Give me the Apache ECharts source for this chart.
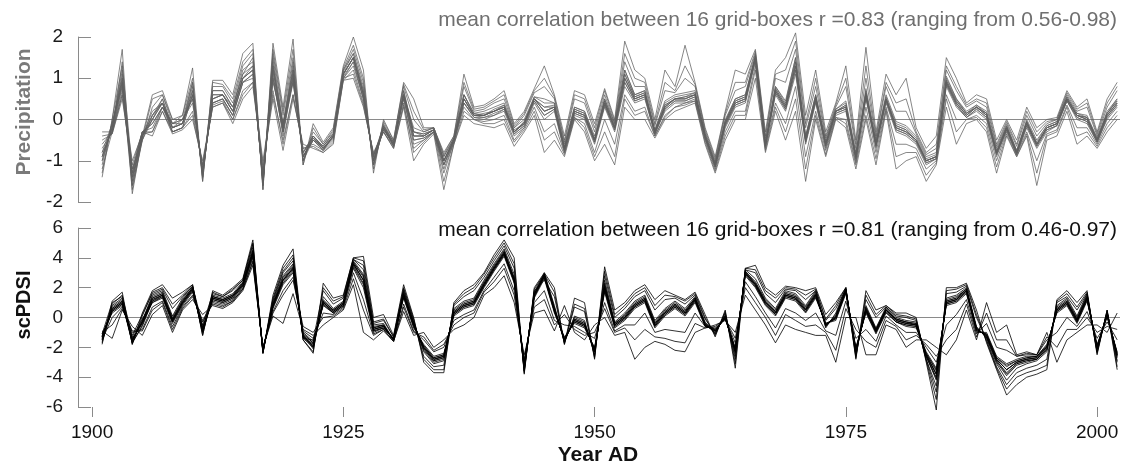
<!DOCTYPE html>
<html>
<head>
<meta charset="utf-8">
<script src="https://cdn.jsdelivr.net/npm/echarts@6/dist/echarts.min.js"></script>
<style>
html,body{margin:0;padding:0;background:#fff;}
#chart{width:1126px;height:465px;}
</style>
</head>
<body>
<div id="chart"></div>
<script>
// ---- data ----
const firstYear = 1901, lastYear = 2002;
const xTickYears = [1900, 1925, 1950, 1975, 2000];
const precipTicks = [-2, -1, 0, 1, 2];
const pdsiTicks = [-6, -4, -2, 0, 2, 4, 6];
const precipTitle = 'mean correlation between 16 grid-boxes r =0.83 (ranging from 0.56-0.98)';
const pdsiTitle = 'mean correlation between 16 grid-boxes r =0.81 (ranging from 0.46-0.97)';

// precipitation anomalies, one row per year (1901..2002), 16 grid-boxes per row
const precipByYear = [
[-0.9,-1.0,-0.8,-0.9,-1.1,-0.7,-0.9,-1.0,-0.8,-1.2,-1.4,-0.4,-0.3,-0.6,-1.3,-0.5],
[-0.2,-0.1,-0.3,-0.2,-0.1,-0.3,-0.2,-0.2,-0.1,-0.3,0.0,-0.35,-0.3,-0.3,0.0,-0.35],
[0.9,1.0,0.8,1.1,0.9,0.7,1.0,1.2,0.8,0.9,1.7,0.5,0.6,1.4,1.3,0.6],
[-1.4,-1.5,-1.3,-1.4,-1.6,-1.2,-1.4,-1.5,-1.3,-1.7,-1.8,-1.1,-1.0,-1.6,-1.2,-1.3],
[-0.4,-0.4,-0.3,-0.4,-0.5,-0.3,-0.4,-0.4,-0.3,-0.5,-0.4,-0.3,-0.35,-0.45,-0.5,-0.3],
[0.0,0.1,-0.1,0.1,0.0,-0.2,0.2,0.0,-0.1,0.1,0.6,-0.4,-0.3,0.5,0.3,-0.3],
[0.4,0.4,0.3,0.5,0.4,0.3,0.4,0.5,0.3,0.4,0.7,0.2,0.3,0.6,0.6,0.2],
[-0.2,-0.1,-0.2,-0.2,-0.3,-0.1,-0.2,-0.2,-0.1,-0.3,0.0,-0.35,-0.3,-0.1,0.0,-0.3],
[-0.1,-0.1,0.0,-0.1,-0.2,0.0,-0.1,-0.1,0.0,-0.2,0.1,-0.25,-0.2,0.1,0.0,-0.2],
[0.6,0.7,0.5,0.8,0.6,0.4,0.7,0.9,0.5,0.6,1.25,0.0,0.1,1.0,0.9,0.2],
[-1.3,-1.3,-1.2,-1.4,-1.3,-1.2,-1.3,-1.4,-1.2,-1.3,-1.5,-1.0,-1.1,-1.5,-1.4,-1.1],
[0.5,0.6,0.4,0.7,0.5,0.4,0.6,0.7,0.4,0.5,0.95,0.3,0.35,0.9,0.8,0.3],
[0.6,0.6,0.5,0.7,0.6,0.5,0.6,0.7,0.5,0.6,0.95,0.4,0.45,0.85,0.8,0.4],
[0.2,0.3,0.1,0.3,0.2,0.1,0.2,0.3,0.1,0.2,0.6,-0.1,0.0,0.5,0.4,0.0],
[1.0,1.1,0.9,1.2,1.0,0.9,1.0,1.1,0.9,1.0,1.6,0.5,0.7,1.4,1.3,0.6],
[1.2,1.3,1.1,1.4,1.2,1.0,1.3,1.5,1.1,1.2,1.85,0.8,0.9,1.7,1.6,0.9],
[-1.5,-1.5,-1.4,-1.6,-1.5,-1.3,-1.5,-1.6,-1.4,-1.5,-1.7,-1.1,-1.2,-1.7,-1.6,-1.0],
[1.2,1.3,1.0,1.4,1.2,0.9,1.3,1.5,1.0,1.1,1.85,0.5,0.7,1.7,1.6,0.6],
[-0.2,-0.1,-0.3,-0.2,-0.3,-0.1,-0.2,-0.1,-0.3,-0.4,0.3,-0.75,-0.6,0.2,0.1,-0.5],
[1.1,1.2,1.0,1.3,1.1,0.9,1.2,1.4,0.9,1.0,1.95,0.5,0.6,1.7,1.5,0.6],
[-0.9,-0.9,-0.8,-1.0,-0.9,-0.8,-0.9,-1.0,-0.8,-0.9,-1.1,-0.6,-0.7,-1.1,-1.0,-0.7],
[-0.45,-0.4,-0.5,-0.4,-0.5,-0.4,-0.45,-0.5,-0.4,-0.5,-0.1,-0.7,-0.65,-0.2,-0.3,-0.6],
[-0.7,-0.7,-0.65,-0.7,-0.75,-0.65,-0.7,-0.7,-0.65,-0.75,-0.55,-0.8,-0.8,-0.6,-0.6,-0.75],
[-0.4,-0.4,-0.35,-0.45,-0.4,-0.35,-0.4,-0.45,-0.35,-0.4,-0.2,-0.6,-0.55,-0.25,-0.3,-0.5],
[1.1,1.1,1.05,1.15,1.1,1.0,1.1,1.2,1.0,1.1,1.3,0.95,1.0,1.25,1.2,0.95],
[1.5,1.5,1.4,1.6,1.5,1.3,1.5,1.6,1.4,1.5,2.0,1.0,1.1,1.8,1.7,1.2],
[0.6,0.7,0.5,0.7,0.6,0.5,0.6,0.8,0.5,0.6,1.2,0.3,0.35,1.0,0.9,0.4],
[-1.0,-1.0,-0.9,-1.1,-1.0,-0.9,-1.0,-1.1,-0.9,-1.0,-1.3,-0.8,-0.85,-1.2,-1.1,-0.85],
[-0.2,-0.15,-0.2,-0.2,-0.25,-0.15,-0.2,-0.2,-0.15,-0.25,0.0,-0.3,-0.3,-0.05,-0.1,-0.3],
[-0.6,-0.6,-0.6,-0.65,-0.6,-0.55,-0.6,-0.65,-0.55,-0.6,-0.5,-0.7,-0.7,-0.5,-0.55,-0.65],
[0.6,0.6,0.55,0.7,0.6,0.5,0.6,0.7,0.5,0.6,0.9,0.3,0.4,0.85,0.8,0.35],
[-0.4,-0.3,-0.5,-0.3,-0.4,-0.6,-0.2,-0.4,-0.5,-0.3,0.5,-1.0,-0.8,0.2,0.0,-0.7],
[-0.4,-0.35,-0.45,-0.4,-0.4,-0.5,-0.3,-0.4,-0.45,-0.35,-0.2,-0.6,-0.55,-0.25,-0.3,-0.5],
[-0.25,-0.25,-0.3,-0.25,-0.25,-0.3,-0.2,-0.25,-0.3,-0.25,-0.2,-0.35,-0.3,-0.2,-0.2,-0.3],
[-1.0,-1.0,-1.1,-1.0,-1.1,-1.2,-0.9,-1.0,-1.1,-1.0,-0.8,-1.7,-1.5,-0.85,-0.9,-1.3],
[-0.5,-0.5,-0.5,-0.45,-0.5,-0.55,-0.45,-0.5,-0.55,-0.5,-0.4,-0.6,-0.6,-0.4,-0.45,-0.55],
[0.5,0.5,0.4,0.6,0.5,0.4,0.6,0.6,0.4,0.5,1.1,0.1,0.2,0.9,0.8,0.3],
[0.1,0.1,0.1,0.15,0.1,0.05,0.15,0.1,0.05,0.1,0.3,-0.1,0.0,0.25,0.2,0.0],
[0.1,0.15,0.05,0.1,0.1,0.0,0.2,0.1,0.05,0.1,0.35,-0.15,-0.1,0.3,0.25,-0.05],
[0.2,0.2,0.15,0.25,0.2,0.1,0.3,0.2,0.1,0.2,0.5,-0.2,-0.1,0.45,0.4,0.0],
[0.3,0.35,0.25,0.35,0.3,0.2,0.4,0.3,0.25,0.3,0.7,-0.1,0.0,0.6,0.5,0.1],
[-0.3,-0.3,-0.35,-0.25,-0.3,-0.4,-0.2,-0.3,-0.35,-0.3,-0.1,-0.65,-0.55,-0.15,-0.2,-0.5],
[-0.1,-0.05,-0.15,-0.1,-0.1,-0.2,0.0,-0.1,-0.15,-0.05,0.2,-0.3,-0.25,0.15,0.1,-0.2],
[0.5,0.5,0.45,0.55,0.5,0.4,0.55,0.5,0.45,0.5,0.75,0.1,0.2,0.7,0.65,0.3],
[0.2,0.3,0.1,0.4,0.2,0.0,0.5,0.2,0.1,0.3,1.3,-0.8,-0.5,1.0,0.8,-0.3],
[0.3,0.35,0.25,0.4,0.3,0.2,0.4,0.3,0.25,0.3,0.6,-0.5,-0.3,0.55,0.5,-0.1],
[-0.7,-0.7,-0.75,-0.65,-0.7,-0.8,-0.6,-0.7,-0.75,-0.7,-0.4,-0.9,-0.85,-0.5,-0.55,-0.8],
[0.2,0.25,0.15,0.3,0.2,0.1,0.3,0.2,0.15,0.25,0.7,0.0,0.05,0.6,0.5,0.05],
[0.1,0.15,0.05,0.2,0.1,0.0,0.2,0.1,0.05,0.15,0.6,-0.3,-0.2,0.5,0.4,-0.1],
[-0.5,-0.5,-0.55,-0.45,-0.5,-0.6,-0.4,-0.5,-0.55,-0.5,-0.1,-1.0,-0.9,-0.2,-0.3,-0.8],
[0.4,0.45,0.35,0.5,0.4,0.3,0.5,0.4,0.35,0.45,0.75,-0.6,-0.3,0.7,0.6,0.0],
[-0.2,-0.2,-0.25,-0.15,-0.2,-0.3,-0.1,-0.2,-0.25,-0.2,0.0,-1.1,-0.9,-0.05,-0.1,-0.6],
[1.0,1.1,0.9,1.2,1.0,0.8,1.2,1.0,0.9,1.1,1.9,0.3,0.5,1.6,1.4,0.6],
[0.5,0.55,0.45,0.6,0.5,0.4,0.6,0.5,0.45,0.55,1.2,0.0,0.1,1.0,0.8,0.2],
[0.6,0.65,0.55,0.7,0.6,0.5,0.7,0.6,0.55,0.65,1.0,0.0,0.2,0.9,0.8,0.3],
[-0.3,-0.3,-0.35,-0.25,-0.3,-0.35,-0.25,-0.3,-0.35,-0.3,0.0,-0.45,-0.4,-0.1,-0.15,-0.4],
[0.3,0.35,0.25,0.4,0.3,0.2,0.45,0.3,0.25,0.35,1.2,0.0,0.05,0.9,0.7,0.1],
[0.5,0.5,0.45,0.55,0.5,0.4,0.6,0.5,0.45,0.5,0.8,0.2,0.3,0.7,0.65,0.3],
[0.5,0.55,0.45,0.6,0.5,0.4,0.65,0.5,0.45,0.55,1.8,0.3,0.35,1.3,1.0,0.4],
[0.6,0.65,0.55,0.65,0.6,0.5,0.7,0.6,0.55,0.6,0.9,0.4,0.45,0.85,0.8,0.45],
[-0.4,-0.4,-0.45,-0.35,-0.4,-0.45,-0.35,-0.4,-0.45,-0.4,-0.2,-0.6,-0.55,-0.25,-0.3,-0.5],
[-1.1,-1.1,-1.15,-1.05,-1.1,-1.15,-1.05,-1.1,-1.15,-1.1,-0.9,-1.3,-1.25,-0.95,-1.0,-1.2],
[-0.1,-0.05,-0.15,-0.05,-0.1,-0.2,0.0,-0.1,-0.15,-0.05,0.2,-0.5,-0.4,0.15,0.1,-0.3],
[0.4,0.45,0.35,0.5,0.4,0.3,0.5,0.4,0.35,0.45,1.2,0.0,0.1,0.9,0.7,0.2],
[0.5,0.55,0.45,0.6,0.5,0.4,0.6,0.5,0.45,0.55,1.1,0.0,0.1,0.9,0.8,0.2],
[1.5,1.5,1.45,1.55,1.5,1.4,1.55,1.5,1.45,1.5,1.7,1.0,1.2,1.65,1.6,1.3],
[-0.6,-0.6,-0.65,-0.55,-0.6,-0.65,-0.55,-0.6,-0.65,-0.6,-0.3,-0.8,-0.75,-0.4,-0.45,-0.7],
[0.7,0.75,0.65,0.8,0.7,0.6,0.8,0.7,0.65,0.75,1.2,0.2,0.3,1.1,1.0,0.4],
[0.3,0.35,0.25,0.4,0.3,0.2,0.45,0.3,0.25,0.35,1.5,-0.5,-0.3,1.2,0.9,-0.1],
[1.3,1.4,1.2,1.5,1.3,1.1,1.5,1.3,1.2,1.4,2.1,0.2,0.5,1.9,1.7,0.8],
[-0.5,-0.45,-0.55,-0.4,-0.5,-0.6,-0.4,-0.5,-0.55,-0.45,0.1,-1.5,-1.2,-0.1,-0.2,-0.9],
[0.5,0.55,0.45,0.6,0.5,0.4,0.6,0.5,0.45,0.55,1.2,0.0,0.1,1.0,0.8,0.2],
[-0.6,-0.6,-0.65,-0.55,-0.6,-0.7,-0.5,-0.6,-0.65,-0.6,-0.3,-0.9,-0.85,-0.4,-0.45,-0.75],
[0.2,0.2,0.15,0.25,0.2,0.1,0.25,0.2,0.15,0.2,0.4,0.0,0.05,0.35,0.3,0.05],
[0.3,0.35,0.25,0.4,0.3,0.2,0.45,0.3,0.25,0.35,1.3,-0.2,-0.1,1.0,0.8,0.0],
[-0.9,-0.9,-0.95,-0.85,-0.9,-1.0,-0.8,-0.9,-0.95,-0.9,-0.5,-1.2,-1.1,-0.6,-0.7,-1.05],
[0.6,0.65,0.55,0.7,0.6,0.5,0.75,0.6,0.55,0.65,1.75,0.0,0.1,1.3,1.0,0.3],
[-0.6,-0.6,-0.65,-0.55,-0.6,-0.7,-0.5,-0.6,-0.65,-0.6,-0.3,-1.1,-0.95,-0.4,-0.45,-0.8],
[0.5,0.5,0.45,0.55,0.5,0.4,0.6,0.5,0.45,0.5,1.1,0.2,0.25,0.9,0.8,0.3],
[-0.2,-0.15,-0.25,-0.1,-0.2,-0.3,-0.05,-0.2,-0.25,-0.15,0.6,-1.2,-0.9,0.4,0.2,-0.6],
[-0.3,-0.25,-0.35,-0.2,-0.3,-0.4,-0.15,-0.3,-0.35,-0.25,1.0,-1.0,-0.8,0.5,0.2,-0.6],
[-0.5,-0.5,-0.55,-0.45,-0.5,-0.6,-0.4,-0.5,-0.55,-0.5,-0.2,-0.9,-0.8,-0.3,-0.35,-0.7],
[-1.0,-1.0,-1.05,-0.95,-1.0,-1.1,-0.9,-1.0,-1.05,-1.0,-0.7,-1.5,-1.35,-0.8,-0.85,-1.2],
[-0.9,-0.9,-0.95,-0.85,-0.9,-0.95,-0.8,-0.9,-0.95,-0.9,-0.4,-1.1,-1.05,-0.6,-0.7,-1.0],
[0.9,0.95,0.85,1.0,0.9,0.8,1.05,0.9,0.85,0.95,1.5,0.3,0.5,1.3,1.2,0.6],
[0.4,0.45,0.35,0.5,0.4,0.3,0.5,0.4,0.35,0.45,1.0,-0.6,-0.3,0.8,0.7,0.0],
[0.1,0.15,0.05,0.15,0.1,0.05,0.2,0.1,0.05,0.15,0.4,-0.1,0.0,0.35,0.3,0.0],
[0.3,0.3,0.25,0.35,0.3,0.2,0.35,0.3,0.25,0.3,0.6,0.0,0.05,0.5,0.45,0.1],
[0.1,0.15,0.05,0.15,0.1,0.0,0.2,0.1,0.05,0.15,0.5,-0.3,-0.2,0.4,0.3,-0.1],
[-0.8,-0.8,-0.85,-0.75,-0.8,-0.9,-0.7,-0.8,-0.85,-0.8,-0.5,-1.3,-1.15,-0.6,-0.65,-1.0],
[-0.2,-0.2,-0.25,-0.15,-0.2,-0.25,-0.15,-0.2,-0.25,-0.2,0.0,-0.4,-0.35,-0.05,-0.1,-0.3],
[-0.8,-0.8,-0.8,-0.75,-0.8,-0.85,-0.75,-0.8,-0.85,-0.8,-0.5,-0.9,-0.9,-0.6,-0.65,-0.85],
[-0.1,-0.05,-0.15,-0.05,-0.1,-0.2,0.0,-0.1,-0.15,-0.05,0.3,-0.4,-0.35,0.2,0.1,-0.3],
[-0.6,-0.6,-0.65,-0.55,-0.6,-0.7,-0.5,-0.6,-0.65,-0.6,-0.2,-1.6,-1.3,-0.3,-0.4,-1.0],
[-0.2,-0.2,-0.25,-0.15,-0.2,-0.3,-0.15,-0.2,-0.25,-0.2,0.0,-0.5,-0.4,-0.05,-0.1,-0.35],
[-0.1,-0.1,-0.15,-0.05,-0.1,-0.15,-0.05,-0.1,-0.15,-0.1,0.05,-0.4,-0.3,0.0,0.0,-0.25],
[0.5,0.5,0.45,0.55,0.5,0.45,0.55,0.5,0.45,0.5,0.7,0.2,0.3,0.65,0.6,0.35],
[0.1,0.1,0.05,0.15,0.1,0.0,0.15,0.1,0.05,0.1,0.3,-0.6,-0.4,0.25,0.2,-0.2],
[0.0,0.05,-0.05,0.05,0.0,-0.1,0.1,0.0,-0.05,0.05,0.5,-0.4,-0.3,0.4,0.3,-0.2],
[-0.5,-0.5,-0.55,-0.45,-0.5,-0.55,-0.45,-0.5,-0.55,-0.5,-0.3,-0.7,-0.65,-0.35,-0.4,-0.6],
[0.1,0.15,0.05,0.15,0.1,0.0,0.2,0.1,0.05,0.15,0.5,-0.3,-0.2,0.4,0.3,-0.1],
[0.4,0.45,0.35,0.5,0.4,0.3,0.5,0.4,0.35,0.45,0.9,0.0,0.1,0.8,0.7,0.2]
];

// scPDSI, one row per year (1901..2002), 16 grid-boxes per row
const pdsiByYear = [
[-1.3,-1.4,-1.2,-1.3,-1.5,-1.1,-1.3,-1.4,-1.2,-1.6,-1.8,-0.9,-1.0,-1.7,-1.1,-1.5],
[0.5,0.6,0.4,0.7,0.5,0.3,0.6,0.8,0.4,0.5,1.1,-1.4,-0.5,0.9,1.0,0.0],
[1.0,1.1,0.9,1.2,1.0,0.8,1.1,1.3,0.9,1.0,1.7,0.5,0.6,1.5,1.4,0.7],
[-1.5,-1.6,-1.4,-1.5,-1.7,-1.3,-1.5,-1.6,-1.4,-1.7,-1.8,-0.6,-0.9,-1.8,-1.2,-1.0],
[-0.3,-0.2,-0.4,-0.3,-0.5,-0.1,-0.3,-0.2,-0.4,-0.6,0.3,-1.2,-0.9,0.1,0.2,-0.8],
[1.2,1.3,1.1,1.4,1.2,1.0,1.3,1.5,1.0,1.1,1.8,0.2,0.5,1.7,1.6,0.7],
[1.5,1.6,1.4,1.7,1.5,1.3,1.6,1.8,1.4,1.5,2.2,0.8,1.0,2.0,1.9,1.1],
[-0.2,-0.1,-0.3,0.0,-0.2,-0.4,-0.1,0.1,-0.3,-0.2,1.3,-1.0,-0.8,0.9,0.6,-0.6],
[1.0,1.1,0.9,1.2,1.0,0.8,1.1,1.3,0.9,1.0,1.7,0.5,0.6,1.5,1.4,0.7],
[1.9,2.0,1.8,2.0,1.9,1.7,2.0,2.1,1.8,1.9,2.2,1.2,1.4,2.2,2.1,1.5],
[-0.8,-0.9,-0.7,-0.9,-1.0,-0.6,-0.8,-0.9,-0.7,-1.0,-1.2,0.2,-0.3,-1.2,-0.5,-0.2],
[1.3,1.4,1.2,1.4,1.3,1.1,1.4,1.5,1.2,1.3,1.8,0.8,0.9,1.7,1.6,1.0],
[1.1,1.2,1.0,1.2,1.1,0.9,1.2,1.3,1.0,1.1,1.5,0.6,0.7,1.4,1.4,0.8],
[1.4,1.5,1.3,1.5,1.4,1.2,1.5,1.6,1.3,1.4,2.0,1.0,1.1,1.9,1.8,1.1],
[2.2,2.3,2.1,2.3,2.2,2.0,2.3,2.4,2.1,2.2,2.6,1.8,1.9,2.5,2.5,1.9],
[4.3,4.4,4.2,4.5,4.3,4.0,4.5,4.7,4.1,4.3,5.2,3.5,3.7,5.0,4.9,3.8],
[-2.2,-2.3,-2.2,-2.3,-2.2,-2.1,-2.3,-2.4,-2.1,-2.2,-2.4,-2.0,-2.1,-2.4,-2.3,-2.0],
[0.8,0.9,0.7,1.0,0.8,0.6,0.9,1.1,0.7,0.8,1.5,0.1,0.3,1.3,1.2,0.4],
[2.5,2.6,2.4,2.8,2.5,2.2,2.7,3.0,2.3,2.5,3.5,-0.4,1.5,3.3,3.1,1.8],
[3.3,3.4,3.2,3.6,3.3,3.0,3.5,3.8,3.1,3.3,4.6,1.6,2.5,4.2,4.0,2.7],
[-1.2,-1.3,-1.1,-1.3,-1.2,-1.0,-1.3,-1.4,-1.1,-1.2,-1.5,-0.8,-0.6,-1.5,-1.4,-0.9],
[-1.8,-1.9,-1.7,-1.9,-2.0,-1.6,-1.8,-2.0,-1.7,-2.1,-2.4,-1.2,-1.0,-2.3,-1.5,-1.4],
[1.0,1.1,0.9,1.2,1.0,0.8,1.1,1.4,0.9,1.0,2.3,-0.5,0.0,2.0,1.8,0.3],
[0.4,0.5,0.3,0.5,0.4,0.3,0.5,0.6,0.3,0.4,1.3,0.0,0.1,1.1,0.9,0.2],
[0.9,1.0,0.8,1.0,0.9,0.8,1.0,1.1,0.8,0.9,1.5,0.5,0.6,1.4,1.3,0.7],
[3.6,3.7,3.5,3.8,3.6,3.3,3.7,3.9,3.4,3.6,4.0,2.2,2.6,4.0,3.9,3.0],
[2.5,2.7,2.3,2.9,2.5,2.0,2.8,3.2,2.2,2.5,4.1,-1.0,0.5,3.8,3.5,1.2],
[-0.8,-0.7,-0.9,-0.6,-0.8,-1.0,-0.7,-0.5,-0.9,-0.8,0.0,-1.5,-1.2,-0.3,-0.4,-1.1],
[-0.6,-0.5,-0.7,-0.5,-0.6,-0.7,-0.5,-0.4,-0.7,-0.6,0.2,-0.9,-0.8,-0.1,-0.2,-0.8],
[-1.5,-1.5,-1.4,-1.5,-1.5,-1.4,-1.5,-1.5,-1.4,-1.5,-1.2,-1.6,-1.6,-1.3,-1.3,-1.6],
[1.5,1.6,1.4,1.7,1.5,1.3,1.6,1.8,1.4,1.5,2.2,0.4,0.7,2.0,1.9,0.9],
[-0.5,-0.4,-0.6,-0.4,-0.5,-0.7,-0.4,-0.3,-0.6,-0.5,0.0,-1.2,-1.0,-0.1,-0.2,-0.9],
[-2.0,-2.1,-1.9,-2.2,-2.0,-1.8,-2.1,-2.3,-1.9,-2.0,-3.0,-1.0,-1.3,-2.8,-2.6,-1.5],
[-2.8,-2.9,-2.7,-3.0,-2.8,-2.6,-2.9,-3.1,-2.7,-2.8,-3.7,-2.0,-2.2,-3.5,-3.3,-2.3],
[-2.6,-2.7,-2.5,-2.8,-2.6,-2.4,-2.7,-2.9,-2.5,-2.6,-3.7,-1.5,-1.8,-3.5,-3.2,-2.0],
[0.3,0.4,0.2,0.5,0.3,0.1,0.4,0.6,0.2,0.3,1.0,-0.8,-0.5,0.9,0.8,-0.2],
[0.8,0.9,0.7,1.0,0.8,0.6,0.9,1.1,0.7,0.8,1.8,-0.5,0.0,1.6,1.4,0.2],
[1.0,1.1,0.9,1.2,1.0,0.8,1.1,1.3,0.9,1.0,2.2,0.0,0.3,2.0,1.8,0.5],
[2.2,2.3,2.1,2.4,2.2,2.0,2.3,2.5,2.1,2.2,3.0,1.5,1.7,2.9,2.7,1.8],
[3.3,3.4,3.2,3.5,3.3,3.1,3.4,3.6,3.2,3.3,4.2,2.0,2.4,4.0,3.8,2.7],
[4.3,4.4,4.2,4.5,4.3,4.1,4.4,4.6,4.2,4.3,5.2,2.8,3.3,5.0,4.8,3.6],
[2.5,2.6,2.4,2.7,2.5,2.3,2.6,2.9,2.4,2.5,4.0,1.0,1.5,3.6,3.3,1.8],
[-3.3,-3.4,-3.2,-3.5,-3.3,-3.1,-3.4,-3.6,-3.2,-3.3,-3.8,-2.5,-2.8,-3.7,-3.6,-2.9],
[1.5,1.6,1.4,1.6,1.5,1.3,1.6,1.7,1.4,1.5,2.0,0.3,0.7,1.9,1.8,1.0],
[2.8,2.8,2.7,2.9,2.8,2.6,2.9,3.0,2.7,2.8,3.0,0.5,1.2,2.9,2.5,1.8],
[0.5,0.6,0.4,0.7,0.5,0.3,0.6,0.8,0.4,0.5,2.0,-0.9,-0.5,1.7,1.4,-0.2],
[-1.5,-1.5,-1.4,-1.6,-1.5,-1.3,-1.6,-1.7,-1.4,-1.5,-1.8,0.8,0.2,-1.8,-1.7,-0.5],
[-0.2,-0.1,-0.3,0.0,-0.2,-0.4,-0.1,0.1,-0.3,-0.2,1.3,-1.0,-0.8,0.9,0.7,-0.6],
[-0.5,-0.4,-0.6,-0.3,-0.5,-0.7,-0.4,-0.2,-0.6,-0.5,1.0,-1.5,-1.2,0.6,0.4,-1.0],
[-2.2,-2.3,-2.1,-2.3,-2.2,-2.0,-2.3,-2.5,-2.1,-2.2,-2.8,-0.5,-1.0,-2.7,-2.6,-1.4],
[2.0,2.1,1.9,2.3,2.0,1.7,2.2,2.5,1.8,2.0,3.4,0.0,0.6,3.1,2.8,1.0],
[-0.5,-0.4,-0.6,-0.4,-0.5,-0.7,-0.4,-0.3,-0.6,-0.5,0.5,-1.2,-1.0,0.2,0.0,-0.9],
[0.0,0.1,-0.1,0.2,0.0,-0.2,0.1,0.3,-0.1,0.0,1.0,-1.0,-0.7,0.8,0.6,-0.5],
[0.8,0.9,0.7,1.0,0.8,0.6,0.9,1.1,0.7,0.8,1.8,-2.8,-1.5,1.6,1.4,-0.5],
[1.2,1.3,1.1,1.4,1.2,1.0,1.3,1.5,1.1,1.2,2.2,-2.0,-0.8,2.0,1.8,0.3],
[-0.5,-0.4,-0.6,-0.3,-0.5,-0.7,-0.4,-0.2,-0.6,-0.5,1.2,-1.6,-1.3,0.8,0.5,-1.0],
[0.3,0.4,0.2,0.5,0.3,0.1,0.4,0.6,0.2,0.3,1.8,-1.8,-1.4,1.5,1.2,-0.8],
[0.8,0.9,0.7,1.0,0.8,0.6,0.9,1.1,0.7,0.8,1.5,-2.2,-1.6,1.4,1.3,-0.9],
[0.3,0.4,0.2,0.5,0.3,0.1,0.4,0.6,0.2,0.3,1.2,-2.3,-1.7,1.1,0.9,-1.0],
[1.2,1.3,1.1,1.3,1.2,1.0,1.3,1.4,1.1,1.2,1.7,-1.0,-0.4,1.6,1.5,0.3],
[-0.5,-0.5,-0.4,-0.5,-0.5,-0.6,-0.4,-0.3,-0.6,-0.5,0.2,-0.7,-0.7,0.0,-0.1,-0.6],
[-0.9,-0.9,-0.8,-1.0,-0.9,-0.8,-1.0,-1.1,-0.8,-0.9,-1.3,-0.5,-0.6,-1.2,-1.1,-0.7],
[0.0,0.1,0.0,0.1,0.0,-0.1,0.1,0.2,-0.1,0.0,0.5,-0.2,-0.1,0.4,0.3,-0.1],
[-2.2,-2.3,-2.1,-2.4,-2.2,-2.0,-2.3,-2.6,-2.1,-2.2,-3.4,-1.0,-1.4,-3.1,-2.8,-1.7],
[3.0,3.0,2.9,3.1,3.0,2.8,3.1,3.2,2.9,3.0,3.3,1.5,2.0,3.3,3.2,2.4],
[2.2,2.3,2.1,2.4,2.2,2.0,2.3,2.6,2.1,2.2,3.5,0.5,1.0,3.2,3.0,1.4],
[1.0,1.1,0.9,1.2,1.0,0.8,1.1,1.3,0.9,1.0,2.0,-0.5,0.0,1.8,1.6,0.3],
[0.3,0.4,0.2,0.5,0.3,0.1,0.4,0.6,0.2,0.3,1.5,-1.7,-1.2,1.3,1.0,-0.7],
[1.5,1.6,1.4,1.7,1.5,1.3,1.6,1.8,1.4,1.5,2.1,-0.5,0.2,2.0,1.9,0.6],
[1.3,1.4,1.2,1.5,1.3,1.1,1.4,1.6,1.2,1.3,2.0,-0.8,-0.2,1.9,1.8,0.3],
[0.5,0.6,0.4,0.7,0.5,0.3,0.6,0.8,0.4,0.5,1.8,-1.0,-0.6,1.5,1.2,-0.2],
[1.5,1.6,1.4,1.7,1.5,1.3,1.6,1.8,1.4,1.5,2.0,-1.2,-0.5,1.9,1.8,0.3],
[-0.5,-0.5,-0.4,-0.6,-0.5,-0.4,-0.6,-0.7,-0.4,-0.5,0.2,-1.2,-1.0,-0.1,-0.2,-0.9],
[0.0,0.1,-0.1,0.2,0.0,-0.2,0.1,0.3,-0.1,0.0,1.0,-3.0,-2.2,0.8,0.6,-1.2],
[1.8,1.8,1.7,1.9,1.8,1.6,1.9,2.0,1.7,1.8,2.0,0.0,0.6,2.0,1.9,1.1],
[-2.2,-2.3,-2.1,-2.3,-2.2,-2.0,-2.3,-2.5,-2.1,-2.2,-2.8,0.0,-0.8,-2.7,-2.6,-1.4],
[0.5,0.6,0.4,0.7,0.5,0.3,0.6,0.8,0.4,0.5,1.8,-2.5,-1.6,1.5,1.2,-0.8],
[-0.9,-0.8,-1.0,-0.8,-0.9,-1.1,-0.8,-0.7,-1.0,-0.9,0.5,-2.5,-2.0,0.2,0.0,-1.6],
[0.5,0.5,0.4,0.6,0.5,0.3,0.6,0.7,0.4,0.5,0.8,-0.5,-0.2,0.8,0.7,0.1],
[-0.2,-0.1,-0.3,-0.1,-0.2,-0.3,-0.1,0.0,-0.3,-0.2,0.3,-0.8,-0.6,0.2,0.1,-0.5],
[-0.4,-0.3,-0.5,-0.3,-0.4,-0.6,-0.3,-0.2,-0.5,-0.4,0.3,-2.0,-1.5,0.1,0.0,-1.0],
[-0.5,-0.5,-0.6,-0.4,-0.5,-0.7,-0.4,-0.3,-0.6,-0.5,0.0,-1.5,-1.2,-0.1,-0.2,-1.0],
[-2.5,-2.6,-2.4,-2.6,-2.5,-2.3,-2.6,-2.8,-2.4,-2.5,-3.0,-1.5,-1.8,-2.9,-2.8,-2.0],
[-3.8,-4.0,-3.6,-4.2,-3.8,-3.4,-4.1,-4.6,-3.5,-3.8,-6.2,-2.0,-2.6,-5.5,-5.0,-3.0],
[1.0,1.1,0.9,1.2,1.0,0.8,1.1,1.3,0.9,1.0,2.0,-2.5,-1.5,1.8,1.6,-0.5],
[1.2,1.3,1.1,1.4,1.2,1.0,1.3,1.5,1.1,1.2,2.0,-1.5,-0.8,1.9,1.7,0.2],
[1.8,1.9,1.7,1.9,1.8,1.6,1.9,2.0,1.7,1.8,2.3,0.5,0.9,2.2,2.1,1.2],
[-0.8,-0.7,-0.9,-0.7,-0.8,-1.0,-0.7,-0.6,-0.9,-0.8,0.5,-1.5,-1.3,0.2,0.0,-1.1],
[-1.2,-1.3,-1.1,-1.3,-1.2,-1.0,-1.3,-1.4,-1.1,-1.2,-1.7,1.0,0.3,-1.6,-1.5,-0.4],
[-2.8,-2.9,-2.7,-3.0,-2.8,-2.6,-2.9,-3.1,-2.7,-2.8,-3.5,-1.0,-1.5,-3.4,-3.3,-2.0],
[-3.5,-3.7,-3.3,-3.9,-3.5,-3.1,-3.8,-4.2,-3.2,-3.5,-5.2,-0.5,-1.5,-4.8,-4.5,-2.2],
[-3.0,-3.1,-2.9,-3.2,-3.0,-2.8,-3.1,-3.4,-2.9,-3.0,-4.5,-2.5,-2.6,-4.0,-3.7,-2.6],
[-2.8,-2.9,-2.7,-3.0,-2.8,-2.6,-2.9,-3.1,-2.7,-2.8,-4.0,-2.3,-2.4,-3.7,-3.4,-2.5],
[-2.7,-2.8,-2.6,-2.8,-2.7,-2.6,-2.8,-2.9,-2.6,-2.7,-3.8,-2.5,-2.5,-3.5,-3.2,-2.5],
[-2.0,-2.1,-1.9,-2.2,-2.0,-1.8,-2.1,-2.3,-1.9,-2.0,-3.5,-1.0,-1.3,-3.2,-2.8,-1.5],
[0.5,0.6,0.4,0.7,0.5,0.3,0.6,0.8,0.4,0.5,1.2,-3.0,-2.0,1.1,1.0,-1.0],
[1.0,1.1,0.9,1.2,1.0,0.8,1.1,1.3,0.9,1.0,1.8,-1.5,-0.8,1.6,1.4,0.0],
[-0.2,-0.1,-0.3,0.0,-0.2,-0.4,-0.1,0.1,-0.3,-0.2,1.0,-1.0,-0.8,0.7,0.5,-0.6],
[1.3,1.4,1.2,1.5,1.3,1.1,1.4,1.6,1.2,1.3,1.8,-0.5,0.0,1.7,1.6,0.4],
[-2.0,-2.1,-1.9,-2.1,-2.0,-1.8,-2.1,-2.3,-1.9,-2.0,-2.5,-0.5,-1.0,-2.4,-2.3,-1.4],
[0.2,0.3,0.1,0.3,0.2,0.0,0.3,0.4,0.1,0.2,0.5,-1.0,-0.6,0.5,0.4,-0.3],
[-2.5,-2.6,-2.4,-2.7,-2.5,-2.3,-2.6,-2.9,-2.4,-2.5,-3.5,0.3,-0.8,-3.3,-3.0,-1.5]
];

// ---- build ----
const years = [];
for (let y = firstYear; y <= lastYear; y++) years.push(y);
const nBoxes = 16;

const FONT = '"Liberation Sans", Arial, Helvetica, sans-serif';
const X_MIN = 1898.6, X_MAX = 2002.28;

function makeSeries(rows, gridIdx, color) {
  const out = [];
  for (let b = 0; b < nBoxes; b++) {
    const s = {
      type: 'line',
      xAxisIndex: gridIdx,
      yAxisIndex: gridIdx,
      data: years.map((yr, i) => [yr, rows[i][b]]),
      showSymbol: false,
      symbol: 'none',
      clip: false,
      silent: true,
      lineStyle: { color: color, width: 1 },
      z: 2
    };
    if (b === 0) {
      s.markLine = {
        silent: true,
        symbol: ['none', 'none'],
        label: { show: false },
        lineStyle: { color: '#8a8a8a', width: 1, type: 'solid' },
        data: [{ yAxis: 0 }],
        z: 1
      };
    }
    out.push(s);
  }
  return out;
}

const chart = echarts.init(document.getElementById('chart'), null, { renderer: 'canvas' });

const yAxisCommon = {
  type: 'value',
  axisLine: { show: true, onZero: false, lineStyle: { color: '#8a8a8a', width: 1 } },
  axisTick: { show: true, inside: true, length: 13, lineStyle: { color: '#8a8a8a', width: 1 } },
  axisLabel: { color: '#1a1a1a', fontSize: 19, fontFamily: FONT, margin: 15 },
  splitLine: { show: false }
};

chart.setOption({
  animation: false,
  backgroundColor: '#fff',
  textStyle: { fontFamily: FONT },
  grid: [
    { left: 78, right: 6, top: 37, height: 165 },
    { left: 78, right: 6, top: 228, height: 179 }
  ],
  xAxis: [
    { type: 'value', gridIndex: 0, min: X_MIN, max: X_MAX, show: false },
    {
      type: 'value', gridIndex: 1, min: X_MIN, max: X_MAX,
      axisLine: { show: false, onZero: false },
      axisTick: { show: true, inside: false, length: 10, customValues: xTickYears, lineStyle: { color: '#8a8a8a' } },
      axisLabel: { customValues: xTickYears, formatter: function (v) { return String(Math.round(v)); }, color: '#111', fontSize: 19, fontFamily: FONT, margin: 16 },
      splitLine: { show: false }
    }
  ],
  yAxis: [
    Object.assign({}, yAxisCommon, { gridIndex: 0, min: precipTicks[0], max: precipTicks[precipTicks.length - 1], interval: 1 }),
    Object.assign({}, yAxisCommon, { gridIndex: 1, min: pdsiTicks[0], max: pdsiTicks[pdsiTicks.length - 1], interval: 2 })
  ],
  graphic: [
    { type: 'text', x: 1117, y: 20, style: { text: precipTitle, fill: '#6f6f6f', font: '21px ' + FONT, align: 'right', verticalAlign: 'middle' } },
    { type: 'text', x: 1117, y: 230, style: { text: pdsiTitle, fill: '#111', font: '21px ' + FONT, align: 'right', verticalAlign: 'middle' } },
    { type: 'text', x: 24, y: 112, rotation: Math.PI / 2, style: { text: 'Precipitation', fill: '#7a7a7a', font: 'bold 21px ' + FONT, align: 'center', verticalAlign: 'middle' } },
    { type: 'text', x: 24, y: 305, rotation: Math.PI / 2, style: { text: 'scPDSI', fill: '#111', font: 'bold 20px ' + FONT, align: 'center', verticalAlign: 'middle' } },
    { type: 'text', x: 598, y: 455, style: { text: 'Year AD', fill: '#111', font: 'bold 21px ' + FONT, align: 'center', verticalAlign: 'middle' } }
  ],
  series: [].concat(
    makeSeries(precipByYear, 0, 'rgba(95,95,95,0.75)'),
    makeSeries(pdsiByYear, 1, 'rgba(0,0,0,0.8)')
  )
});
</script>
</body>
</html>
